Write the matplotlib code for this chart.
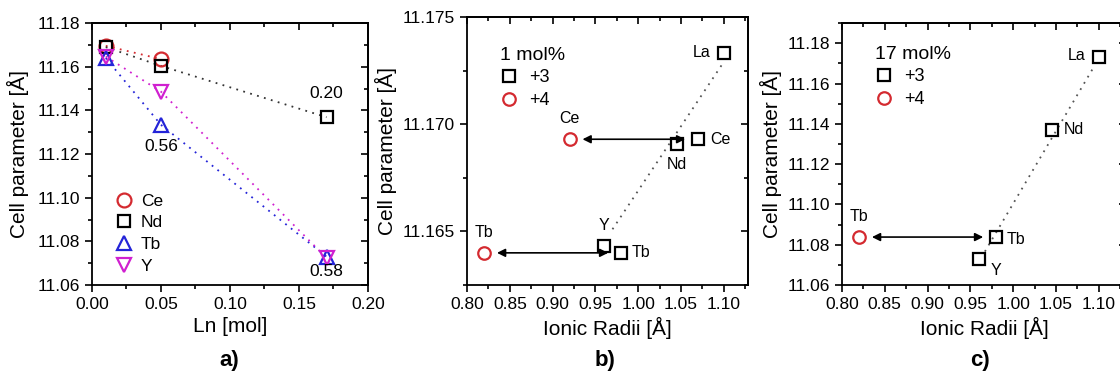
import matplotlib.pyplot as plt
from matplotlib.ticker import MultipleLocator

plt.rcParams['font.family'] = ['Liberation Sans', 'DejaVu Sans']

# panel a: cell parameter vs Ln content
ln_x = [0.01, 0.05, 0.17]
ce_a = [11.1696, 11.1635]
nd_a = [11.1690, 11.1604, 11.1369]
tb_a = [11.1640, 11.1334, 11.0730]
y_a = [11.1647, 11.1486, 11.0724]
notes_a = ["0.20", "0.56", "0.58"]

# panels b, c: cell parameter vs ionic radii
ions3 = ["La", "Ce", "Nd", "Tb", "Y"]
radii3 = [1.10, 1.07, 1.045, 0.98, 0.96]
ions4 = ["Ce", "Tb"]
radii4 = [0.92, 0.82]

b_cell3 = [11.1733, 11.1693, 11.1691, 11.1640, 11.1643]
b_cell4 = [11.1693, 11.1640]
b_fit_x = [0.97, 1.10]
b_fit_y = [11.1651, 11.1729]

c_ions3 = ["La", "Nd", "Tb", "Y"]
c_radii3 = [1.10, 1.045, 0.98, 0.96]
c_cell3 = [11.1734, 11.1370, 11.0838, 11.0729]
c_ions4 = ["Tb"]
c_radii4 = [0.82]
c_cell4 = [11.0838]
c_fit_x = [0.967, 1.094]
c_fit_y = [11.0766, 11.1680]

RED = '#d42a30'
BLUE = '#2424d8'
MAG = '#d020d0'
dots = (0, (1, 3))

fig = plt.figure(figsize=(11.2, 3.79), dpi=100)
ax_a = fig.add_axes([0.0821, 0.248, 0.2464, 0.691])
ax_b = fig.add_axes([0.417, 0.248, 0.251, 0.707])
ax_c = fig.add_axes([0.7518, 0.248, 0.254, 0.691])


def style(ax, xmaj, xmin, ymaj, ymin):
    ax.xaxis.set_major_locator(MultipleLocator(xmaj))
    ax.xaxis.set_minor_locator(MultipleLocator(xmin))
    ax.yaxis.set_major_locator(MultipleLocator(ymaj))
    ax.yaxis.set_minor_locator(MultipleLocator(ymin))
    ax.tick_params(which='both', direction='out', labelsize=12.5, width=1.2)
    ax.tick_params(which='major', length=5)
    ax.tick_params(which='minor', length=3)
    for s in ax.spines.values():
        s.set_linewidth(1.3)
    # top/right ticks point inward, no labels
    for side, loc in (('top', 'x'), ('right', 'y')):
        sec = ax.secondary_xaxis('top') if loc == 'x' else ax.secondary_yaxis('right')
        axis = sec.xaxis if loc == 'x' else sec.yaxis
        axis.set_major_locator(MultipleLocator(xmaj if loc == 'x' else ymaj))
        axis.set_minor_locator(MultipleLocator(xmin if loc == 'x' else ymin))
        sec.tick_params(which='both', direction='in', labelleft=False, labelright=False,
                        labeltop=False, labelbottom=False, width=1.2)
        sec.tick_params(which='major', length=5)
        sec.tick_params(which='minor', length=3)
        sec.spines[side].set_linewidth(1.3)


# ---- panel a
ax_a.plot(ln_x[:2], ce_a, ls=dots, color=RED, lw=1.3)
ax_a.plot(ln_x, nd_a, ls=dots, color='#333333', lw=1.3)
ax_a.plot(ln_x, tb_a, ls=dots, color=BLUE, lw=1.3)
ax_a.plot(ln_x, y_a, ls=dots, color=MAG, lw=1.3)
ax_a.plot(ln_x[:2], ce_a, 'o', ms=10, mfc='none', mec=RED, mew=1.6, ls='none', label='Ce')
ax_a.plot(ln_x, nd_a, 's', ms=8, mfc='none', mec='black', mew=1.6, ls='none', label='Nd')
ax_a.plot(ln_x, tb_a, '^', ms=10, mfc='none', mec=BLUE, mew=1.6, ls='none', label='Tb')
ax_a.plot(ln_x, y_a, 'v', ms=10, mfc='none', mec=MAG, mew=1.6, ls='none', label='Y')
ax_a.annotate(notes_a[0], (ln_x[2], nd_a[2]), xytext=(0, 12), textcoords='offset points',
              ha='center', va='bottom', fontsize=12.5)
ax_a.annotate(notes_a[1], (ln_x[1], tb_a[1]), xytext=(0, -10), textcoords='offset points',
              ha='center', va='top', fontsize=12.5)
ax_a.annotate(notes_a[2], (ln_x[2], tb_a[2]), xytext=(0, -5), textcoords='offset points',
              ha='center', va='top', fontsize=12.5)
ax_a.set_xlim(0, 0.20)
ax_a.set_ylim(11.06, 11.18)
ax_a.xaxis.set_major_formatter('{x:.2f}')
ax_a.yaxis.set_major_formatter('{x:.2f}')
style(ax_a, 0.05, 0.025, 0.02, 0.01)
ax_a.legend(loc='lower left', bbox_to_anchor=(0.02, -0.017), frameon=False, fontsize=12.5,
            handletextpad=0.4, labelspacing=0.38, handlelength=1.2)
ax_a.set_xlabel('Ln [mol]', fontsize=15)
ax_a.set_ylabel('Cell parameter [Å]', fontsize=15, labelpad=6)


def radii_panel(ax, ions3, r3, cell3, ions4, r4, cell4, fit_x, fit_y, title, offs3, offs4, top):
    ax.plot(fit_x, fit_y, ls=dots, color='#555555', lw=1.3)
    ax.plot(r3, cell3, 's', ms=8, mfc='none', mec='black', mew=1.6, ls='none', label='+3')
    ax.plot(r4, cell4, 'o', ms=9, mfc='none', mec=RED, mew=1.6, ls='none', label='+4')
    for name, x, y, off in zip(ions3, r3, cell3, offs3):
        ax.annotate(name, (x, y), xytext=off, textcoords='offset points',
                    ha='center', va='center', fontsize=11.5)
    for name, x, y, off in zip(ions4, r4, cell4, offs4):
        ax.annotate(name, (x, y), xytext=off, textcoords='offset points',
                    ha='center', va='center', fontsize=11.5)
        # double arrow between the +4 circle and the matching +3 square
        j = ions3.index(name)
        ax.annotate('', xy=(x + 0.015, y), xytext=(r3[j] - 0.015, cell3[j]),
                    arrowprops=dict(arrowstyle='<|-|>', color='black', lw=1.2,
                                    shrinkA=0, shrinkB=0, mutation_scale=12))
    leg = ax.legend(loc='upper left', bbox_to_anchor=(0.06, top), frameon=False,
                    fontsize=13, title=title, title_fontsize=14, alignment='left',
                    handletextpad=0.6, labelspacing=0.32, handlelength=1.0)
    leg._legend_box.sep = 4
    ax.set_xlim(0.80, 0.80 + ax.get_position().width * 1120 / 855.5)
    ax.set_xlabel('Ionic Radii [Å]', fontsize=15)
    ax.set_ylabel('Cell parameter [Å]', fontsize=15, labelpad=4)
    ax.xaxis.set_major_formatter('{x:.2f}')


# ---- panel b
radii_panel(ax_b, ions3, radii3, b_cell3, ions4, radii4, b_cell4, b_fit_x, b_fit_y, '1 mol%',
            [(-16, 1), (16, 0), (0, -15), (14, 0), (0, 15)], [(0, 15), (0, 15)], 0.95)
ax_b.set_ylim(11.1625, 11.175)
ax_b.yaxis.set_major_formatter('{x:.3f}')
style(ax_b, 0.05, 0.025, 0.005, 0.0025)

# ---- panel c
radii_panel(ax_c, c_ions3, c_radii3, c_cell3, c_ions4, c_radii4, c_cell4, c_fit_x, c_fit_y, '17 mol%',
            [(-16, 1), (16, 0), (14, -2), (12, -8)], [(0, 15)], 0.975)
ax_c.set_ylim(11.06, 11.19)
ax_c.yaxis.set_major_formatter('{x:.2f}')
style(ax_c, 0.05, 0.025, 0.02, 0.01)

for ax, tag in ((ax_a, 'a)'), (ax_b, 'b)'), (ax_c, 'c)')):
    fig.text(ax.get_position().x0 + 0.123, 0.05, tag, ha='center', va='center',
             fontsize=16, fontweight='bold')

fig.savefig('out.png', dpi=100)
